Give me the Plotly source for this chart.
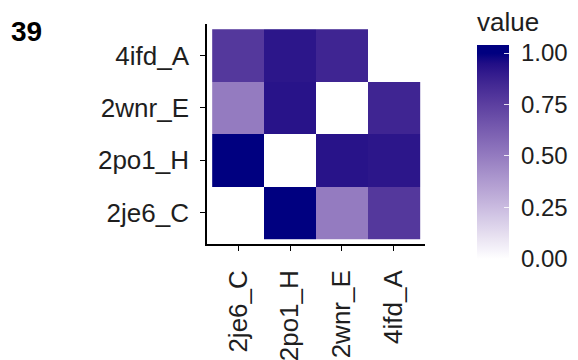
import plotly.graph_objects as go

# ---- data ----
labels = ["2je6_C", "2po1_H", "2wnr_E", "4ifd_A"]
row_2je6_C = [None, 1.00, 0.50, 0.78]
row_2po1_H = [1.00, None, 0.93, 0.92]
row_2wnr_E = [0.50, 0.93, None, 0.86]
row_4ifd_A = [0.78, 0.92, 0.86, None]
z = [row_2je6_C, row_2po1_H, row_2wnr_E, row_4ifd_A]
cbar_ticks = [0.0, 0.25, 0.5, 0.75, 1.0]
cbar_ticktext = ["0.00", "0.25", "0.50", "0.75", "1.00"]
panel_label = "39"
legend_title = "value"

# ---- Lab-interpolated white -> navy colorscale (like ggplot2 gradient) ----
def srgb_to_lin(c):
    c = c / 255.0
    return c / 12.92 if c <= 0.04045 else ((c + 0.055) / 1.055) ** 2.4

def lin_to_srgb(c):
    c = max(0.0, min(1.0, c))
    v = 12.92 * c if c <= 0.0031308 else 1.055 * c ** (1 / 2.4) - 0.055
    return int(round(max(0, min(1, v)) * 255))

Xn, Yn, Zn = 0.95047, 1.0, 1.08883

def f(t):
    return t ** (1 / 3) if t > (6 / 29) ** 3 else t / (3 * (6 / 29) ** 2) + 4 / 29

def finv(t):
    return t ** 3 if t > 6 / 29 else 3 * (6 / 29) ** 2 * (t - 4 / 29)

def rgb_to_lab(rgb):
    r, g, b = [srgb_to_lin(c) for c in rgb]
    X = 0.4124 * r + 0.3576 * g + 0.1805 * b
    Y = 0.2126 * r + 0.7152 * g + 0.0722 * b
    Z = 0.0193 * r + 0.1192 * g + 0.9505 * b
    fx, fy, fz = f(X / Xn), f(Y / Yn), f(Z / Zn)
    return (116 * fy - 16, 500 * (fx - fy), 200 * (fy - fz))

def lab_to_rgb(lab):
    L, a, b = lab
    fy = (L + 16) / 116
    fx = fy + a / 500
    fz = fy - b / 200
    X, Y, Z = Xn * finv(fx), Yn * finv(fy), Zn * finv(fz)
    r = 3.2406 * X - 1.5372 * Y - 0.4986 * Z
    g = -0.9689 * X + 1.8758 * Y + 0.0415 * Z
    bb = 0.0557 * X - 0.2040 * Y + 1.0570 * Z
    return (lin_to_srgb(r), lin_to_srgb(g), lin_to_srgb(bb))

low = rgb_to_lab((255, 255, 255))
high = rgb_to_lab((0, 0, 128))

def color_at(t):
    t = max(0.0, min(1.0, t))
    lab = tuple(low[k] + (high[k] - low[k]) * t for k in range(3))
    r, g, b = lab_to_rgb(lab)
    return f"rgb({r},{g},{b})"

# colour bar extends a little beyond the 0..1 limits (as in ggplot's legend)
ZMIN, ZMAX = -0.04, 1.04
span = ZMAX - ZMIN
stop_values = [ZMIN] + [i / 20 for i in range(21)] + [ZMAX]
colorscale = [[(v - ZMIN) / span, color_at(v)] for v in stop_values]

# ---- layout geometry (page has an 8px body margin) ----
W, H = 578, 360
OFF = 8
ml = 207 - OFF
mt = 23.75 - OFF
pw = 218.4
ph = 220.5
mr = W - ml - pw
mb = H - mt - ph
plot_bottom = mt + ph

def px_x(x):
    return (x - OFF - ml) / pw

def px_y(y):
    return (plot_bottom - (y - OFF)) / ph

font_family = "Liberation Sans, Arial, sans-serif"
text_color = "#1e1e1e"

tick_px = 205.7  # pixels between 0.00 and 1.00 on the colour bar

fig = go.Figure(
    go.Heatmap(
        z=z,
        x=labels,
        y=labels,
        colorscale=colorscale,
        zmin=ZMIN,
        zmax=ZMAX,
        hoverongaps=False,
        colorbar=dict(
            thickness=32,
            thicknessmode="pixels",
            len=tick_px * span,
            lenmode="pixels",
            x=px_x(477),
            xanchor="left",
            y=px_y(155.9),
            yanchor="middle",
            outlinewidth=0,
            tickvals=cbar_ticks,
            ticktext=["\u00a0" + t for t in cbar_ticktext],
            ticks="inside",
            ticklen=5,
            tickwidth=1.2,
            tickcolor="rgba(255,255,255,0.85)",
            tickfont=dict(size=24, color=text_color, family=font_family),
            xpad=0,
            ypad=0,
        ),
    )
)

axis_common = dict(
    type="category",
    showline=True,
    linecolor="black",
    linewidth=1.6,
    ticks="outside",
    ticklen=5,
    tickwidth=1.4,
    tickcolor="black",
    showgrid=False,
    zeroline=False,
    tickfont=dict(size=26, color=text_color, family=font_family),
    range=[-0.6, 3.6],
)

fig.update_layout(
    width=W,
    height=H,
    margin=dict(l=ml, r=mr, t=mt, b=mb, autoexpand=False),
    paper_bgcolor="white",
    plot_bgcolor="white",
    font=dict(family=font_family, color=text_color),
    xaxis=dict(axis_common, tickangle=-90, ticklabelstandoff=9),
    yaxis=dict(axis_common, ticklabelstandoff=6),
    annotations=[
        dict(
            text="<b>" + panel_label + "</b>",
            xref="paper", yref="paper",
            x=px_x(9), y=px_y(31),
            xanchor="left", yanchor="middle",
            showarrow=False,
            font=dict(size=28, color="black", family=font_family),
        ),
        dict(
            text=legend_title,
            xref="paper", yref="paper",
            x=px_x(476), y=px_y(22),
            xanchor="left", yanchor="middle",
            showarrow=False,
            borderpad=0,
            font=dict(size=26, color=text_color, family=font_family),
        ),
    ],
)

fig.write_html("out.html")
